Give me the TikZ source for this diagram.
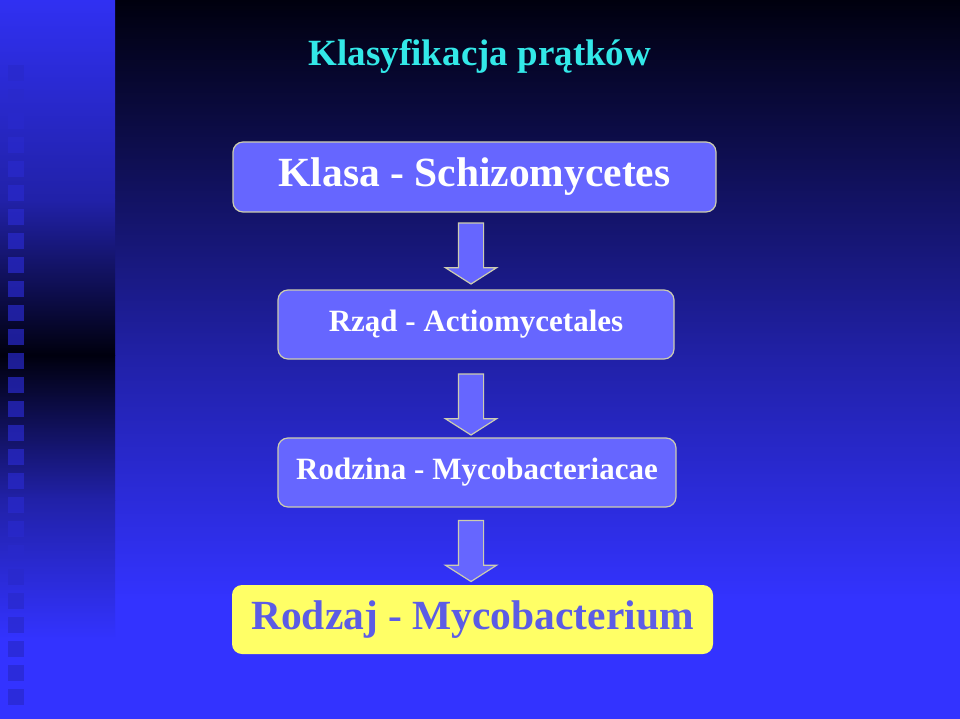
\documentclass[tikz,border=0pt]{standalone}
\usepackage{fontspec}
\setmainfont{Liberation Serif}
\usetikzlibrary{shapes.arrows}

\definecolor{tyt}{RGB}{51,232,232}
\definecolor{pole}{RGB}{102,102,255}
\definecolor{ramka}{RGB}{205,205,175}
\definecolor{zolty}{RGB}{255,255,102}
\definecolor{ciemny}{RGB}{0,0,14}
\definecolor{sredni}{RGB}{33,33,168}
\definecolor{jasny}{RGB}{51,51,255}

\begin{document}
\begin{tikzpicture}[x=1pt,y=-1pt]
        \tikzstyle{box}=[draw=ramka, line width=1.2pt, fill=pole, rounded corners=10pt, text=white, font=\bfseries]
        \tikzstyle{blk}=[draw=ramka, line width=1.2pt, fill=pole, single arrow, rotate=-90, inner xsep=0pt, inner ysep=12pt, single arrow head extend=13pt, single arrow tip angle=115, minimum height=61pt]
        \useasboundingbox (0,0) rectangle (960,719);
        % tlo
        \shade[top color=ciemny, bottom color=sredni] (115,0) rectangle (960,360);
        \shade[top color=sredni, bottom color=jasny] (115,360) rectangle (960,600);
        \fill[jasny] (115,600) rectangle (960,719);
        \shade[top color=jasny!95!black, bottom color=sredni] (0,0) rectangle (115,200);
        \shade[top color=sredni, bottom color=ciemny] (0,200) rectangle (115,355);
        \shade[top color=ciemny, bottom color=sredni] (0,355) rectangle (115,500);
        \shade[top color=sredni, bottom color=jasny] (0,500) rectangle (115,640);
        \fill[jasny] (0,640) rectangle (115,719);
        \foreach \y in {65,89,...,689}
          \fill[jasny!80!black, opacity=0.7] (8,\y) rectangle (24,\y+16);
        \node[text=tyt, font=\bfseries\fontsize{37}{44}\selectfont] (t) at (480,56) {Klasyfikacja prątków};
        \node[box, minimum width=483pt, minimum height=70pt, font=\bfseries\fontsize{41.5}{50}\selectfont] (a) at (474.5,177) {Klasa - Schizomycetes};
        \node[box, minimum width=396pt, minimum height=69pt, font=\bfseries\fontsize{31}{38}\selectfont] (b) at (476,324.5) {Rząd - Actiomycetales};
        \node[box, minimum width=398pt, minimum height=69pt, font=\bfseries\fontsize{31}{38}\selectfont] (c) at (477,472.5) {Rodzina - Mycobacteriacae};
        \node[box, draw=none, fill=zolty, text=pole!90!black, minimum width=481pt, minimum height=69pt, font=\bfseries\fontsize{41.5}{50}\selectfont] (d) at (472.5,619.5) {Rodzaj - Mycobacterium};
        \node[blk] (ab) at (471,249.5) {};
        \node[blk] (bc) at (471,400.5) {};
        \node[blk] (cd) at (471,547) {};
      \end{tikzpicture}
\end{document}
